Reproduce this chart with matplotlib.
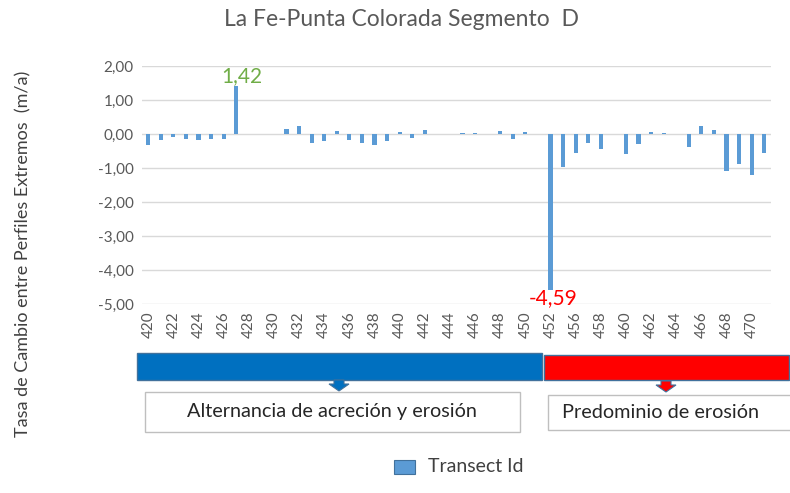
import matplotlib
matplotlib.use("Agg")
import matplotlib.pyplot as plt
from matplotlib.patches import Rectangle, Polygon
import numpy as np

plt.rcParams['font.family'] = ['Lato', 'DejaVu Sans']

# ---- data ----
transect_ids = [420, 421, 422, 423, 424, 425, 426, 427, 428, 429, 430, 431, 432, 433, 434,
                435, 436, 437, 438, 439, 440, 441, 442, 443, 444, 445, 446, 447, 448, 449,
                450, 451, 452, 454, 456, 457, 458, 459, 460, 461, 462, 463, 464, 465, 466,
                467, 468, 469, 470, 471]
rates = [-0.32, -0.19, -0.10, -0.14, -0.19, -0.14, -0.14, 1.42, 0.0, 0.0, 0.0, 0.15, 0.24, -0.25, -0.20,
         0.10, -0.17, -0.27, -0.32, -0.22, 0.05, -0.12, 0.13, 0.0, 0.0, 0.04, 0.04, 0.0, 0.08, -0.14,
         0.05, 0.0, -4.59, -0.98, -0.55, -0.25, -0.43, 0.0, -0.60, -0.28, 0.05, 0.04, 0.0, -0.38, 0.23,
         0.13, -1.09, -0.87, -1.22, -0.55]
y_ticks = [2, 1, 0, -1, -2, -3, -4, -5]
title = "La Fe-Punta Colorada Segmento  D"
ylabel = "Tasa de Cambio entre Perfiles Extremos  (m/a)"
band_labels = ["Alternancia de acreción y erosión", "Predominio de erosión"]
legend_label = "Transect Id"

W, H = 790, 493
fig = plt.figure(figsize=(W / 100, H / 100), dpi=100)

def fx(x):
    return x / W

def fy(y):
    return 1 - y / H

ax = fig.add_axes([fx(142), fy(304), fx(770.5) - fx(142), fy(66) - fy(304)])
pos = np.arange(len(transect_ids))
ax.bar(pos, rates, width=0.33, color='#5b9bd5', zorder=3)
ax.set_xlim(-0.5, len(transect_ids) - 0.5)
ax.set_ylim(-5, 2)
ax.set_yticks(y_ticks)
ax.set_yticklabels([f"{v:.2f}".replace('.', ',') for v in y_ticks], fontsize=11, color='#595959')
ax.set_xticks(pos[::2])
ax.set_xticklabels([str(t) for t in transect_ids[::2]], rotation=90, fontsize=11, color='#595959')
ax.tick_params(axis='y', length=0, pad=6)
ax.tick_params(axis='x', length=0, pad=5)
ax.yaxis.grid(True, color='#d9d9d9', linewidth=1, zorder=0)
for s in ax.spines.values():
    s.set_visible(False)
ax.set_facecolor('none')

# data labels
imax = int(np.argmax(rates))
imin = int(np.argmin(rates))
ax.annotate(f"{rates[imax]:.2f}".replace('.', ','), (pos[imax], rates[imax]),
            xytext=(4, 7), textcoords='offset points', ha='center', va='center',
            fontsize=15, color='#70ad47')
ax.annotate(f"{rates[imin]:.2f}".replace('.', ','), (pos[imin], rates[imin]),
            xytext=(2, -6), textcoords='offset points', ha='center', va='center',
            fontsize=15, color='#ff0000')

# title & y label
fig.text(fx(401), fy(20), title, ha='center', va='center', fontsize=16.5, color='#595959')
fig.text(fx(23), fy(254), ylabel, ha='center', va='center', rotation=90, fontsize=13, color='#404040')

# bands
fig.patches.append(Rectangle((fx(137), fy(380)), fx(541.5) - fx(137), fy(353.5) - fy(380),
                             transform=fig.transFigure, facecolor='#0070c0', edgecolor='#41719c', lw=1))
fig.patches.append(Rectangle((fx(543.5), fy(380)), fx(788.5) - fx(543.5), fy(355) - fy(380),
                             transform=fig.transFigure, facecolor='#ff0000', edgecolor='#41719c', lw=1))

def arrow(cx, top, color):
    pts = [(cx - 5, top), (cx + 5, top), (cx + 5, top + 4), (cx + 10, top + 4),
           (cx, top + 11), (cx - 10, top + 4), (cx - 5, top + 4)]
    fig.patches.append(Polygon([(fx(a), fy(b)) for a, b in pts], closed=True,
                               transform=fig.transFigure, facecolor=color, edgecolor='#41719c', lw=0.8))

arrow(339, 380, '#0070c0')
arrow(666, 381, '#ff0000')

# text boxes
fig.patches.append(Rectangle((fx(145), fy(431.5)), fx(520) - fx(145), fy(392) - fy(431.5),
                             transform=fig.transFigure, facecolor='white', edgecolor='#bfbfbf', lw=1))
fig.patches.append(Rectangle((fx(548), fy(430)), fx(800) - fx(548), fy(395) - fy(430),
                             transform=fig.transFigure, facecolor='white', edgecolor='#bfbfbf', lw=1))
fig.text(fx(332), fy(412), band_labels[0], ha='center', va='center', fontsize=14.3, color='#262626')
fig.text(fx(562), fy(413), band_labels[1], ha='left', va='center', fontsize=14.3, color='#262626')

# legend
fig.patches.append(Rectangle((fx(394), fy(474)), fx(415) - fx(394), fy(460) - fy(474),
                             transform=fig.transFigure, facecolor='#5b9bd5', edgecolor='#41719c', lw=0.8))
fig.text(fx(428), fy(466), legend_label, ha='left', va='center', fontsize=14, color='#404040')

fig.savefig('out.png', dpi=100)
